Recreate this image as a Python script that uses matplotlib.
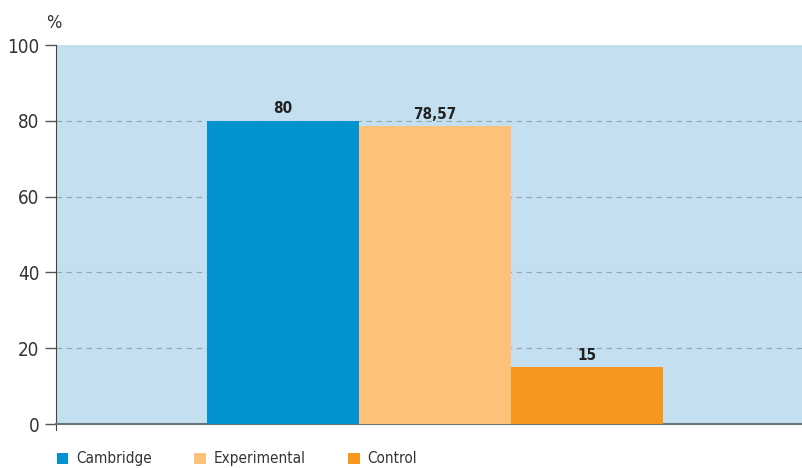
import matplotlib.pyplot as plt
from matplotlib.patches import Patch

plt.rcParams['font.family'] = ['DejaVu Sans']
plt.rcParams['font.stretch'] = 'condensed'

groups = ['Cambridge', 'Experimental', 'Control']
values = [80, 78.57, 15]
value_labels = ['80', '78,57', '15']
colors = ['#0093D0', '#FDC17A', '#F7971E']
yticks = [0, 20, 40, 60, 80, 100]

fig = plt.figure(figsize=(8.02, 4.68), dpi=100)
ax = fig.add_axes([0.0698, 0.094, 0.9302, 0.8098])
ax.set_facecolor('#C3DFF0')

x = list(range(len(values)))
bars = ax.bar(x, values, width=1.0, color=colors, zorder=3)

for b, lab in zip(bars, value_labels):
    ax.text(b.get_x() + b.get_width() / 2, b.get_height() + 1.2, lab,
            ha='center', va='bottom', fontsize=11, fontweight='bold',
            color='#222222', zorder=4)

ax.set_xlim(-1.493, 3.414)
ax.set_ylim(0, 100)
ax.set_yticks(yticks)
ax.set_yticklabels([str(t) for t in yticks], fontsize=13.5, color='#333333')
ax.set_xticks([])

# dashed guides at inner ticks only
ax.hlines(yticks[1:-1], -1.493, 3.414, linestyles=(0, (5, 4)),
          colors='#98a4ad', linewidth=0.8, zorder=1)
ax.tick_params(axis='y', length=8, width=1, color='#555555', pad=4)

for s in ['top', 'right']:
    ax.spines[s].set_visible(False)
ax.spines['left'].set_color('#444444')
ax.spines['left'].set_bounds(-1.5, 100)
ax.spines['bottom'].set_color('#6a747c')
ax.spines['bottom'].set_linewidth(1.5)

fig.text(0.058, 0.95, '%', fontsize=13, color='#333333', ha='left', va='center')

handles = [Patch(facecolor=c, edgecolor='none') for c in colors]
fig.legend(handles, groups, loc='lower left', bbox_to_anchor=(0.069, 0.0),
           ncol=3, frameon=False, fontsize=11, handlelength=0.75, handleheight=0.75,
           handletextpad=0.5, columnspacing=2.8, borderpad=0.0, borderaxespad=0.1,
           labelcolor='#333333')

fig.savefig('out.png', dpi=100)
